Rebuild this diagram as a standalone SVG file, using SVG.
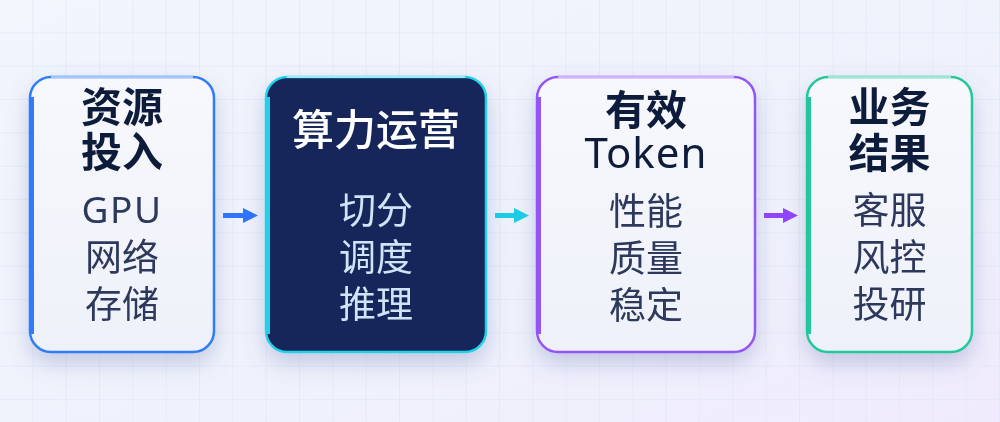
<svg xmlns="http://www.w3.org/2000/svg" width="1000" height="422" viewBox="0 0 1000 422">
  <defs>
    <linearGradient id="bg" x1="0" y1="0" x2="1" y2="1">
      <stop offset="0" stop-color="#f1f5fc"/>
      <stop offset="0.6" stop-color="#eff2fc"/>
      <stop offset="1" stop-color="#f0ebfc"/>
    </linearGradient>
    <pattern id="grid" width="33.3333" height="33.3333" patternUnits="userSpaceOnUse">
      <path d="M33.3333 0 V33.3333 M0 33.3333 H33.3333" fill="none" stroke="#dce4f4" stroke-width="1"/>
    </pattern>
    <linearGradient id="lightFill" x1="0" y1="0" x2="0" y2="1">
      <stop offset="0" stop-color="#f7f8fc"/>
      <stop offset="1" stop-color="#eef1f9"/>
    </linearGradient>
    <filter id="shadow" x="-30%" y="-20%" width="160%" height="150%">
      <feDropShadow dx="0" dy="10" stdDeviation="11" flood-color="#5c6aa8" flood-opacity="0.3"/>
    </filter>
    <marker id="ah-blue" viewBox="0 0 10 10" refX="0" refY="5" markerWidth="15" markerHeight="16" markerUnits="userSpaceOnUse" orient="auto">
      <path d="M0 0 L10 5 L0 10 z" fill="#2f74ff"/>
    </marker>
    <marker id="ah-cyan" viewBox="0 0 10 10" refX="0" refY="5" markerWidth="15" markerHeight="16" markerUnits="userSpaceOnUse" orient="auto">
      <path d="M0 0 L10 5 L0 10 z" fill="#1ccbe6"/>
    </marker>
    <marker id="ah-purple" viewBox="0 0 10 10" refX="0" refY="5" markerWidth="15" markerHeight="16" markerUnits="userSpaceOnUse" orient="auto">
      <path d="M0 0 L10 5 L0 10 z" fill="#8f46fa"/>
    </marker>
  </defs>
  <style>
    .card { filter: url(#shadow); }
    .light { fill: url(#lightFill); stroke-width: 2.5; }
    .hl { stroke: #ffffff; stroke-width: 2; stroke-opacity: 0.55; }
    .title { font-family: "Noto Sans CJK SC", "Noto Sans", sans-serif; font-size: 41px; font-weight: 700; fill: #111a3a; text-anchor: middle; }
    .title-dark { font-family: "Noto Sans CJK SC", "Noto Sans", sans-serif; font-size: 42px; font-weight: 500; fill: #ffffff; text-anchor: middle; }
    .item { font-family: "Noto Sans CJK SC", "Noto Sans", sans-serif; font-size: 37px; font-weight: 400; fill: #2d395c; text-anchor: middle; }
    .item-dark { font-family: "Noto Sans CJK SC", "Noto Sans", sans-serif; font-size: 37px; font-weight: 400; fill: #cfe4f6; text-anchor: middle; }
    .latin { font-family: "Noto Sans", "Noto Sans CJK SC", sans-serif; letter-spacing: 1.5px; }
    .token { font-family: "Noto Sans", "Noto Sans CJK SC", sans-serif; font-size: 42px; font-weight: 400; fill: #111a3a; text-anchor: middle; letter-spacing: 1px; }
    .conn { fill: none; stroke-width: 5; }
  </style>

  <rect x="0" y="0" width="1000" height="422" fill="url(#bg)"/>
  <rect x="0" y="0" width="1000" height="422" fill="url(#grid)"/>

  <g id="node-resources" class="card">
    <rect class="light" x="30" y="77" width="184" height="275" rx="21" stroke="#2f7cf6"/>
    <line class="hl" x1="51" y1="77" x2="193" y2="77"/>
    <rect x="29" y="97" width="5" height="237" fill="#2f7cf6"/>
    <text class="title" x="122" y="122">资源</text>
    <text class="title" x="122" y="167">投入</text>
    <text class="item latin" x="122" y="223">GPU</text>
    <text class="item" x="122" y="271">网络</text>
    <text class="item" x="122" y="318">存储</text>
  </g>

  <g id="node-compute" class="card">
    <rect x="266" y="77" width="220" height="275" rx="21" fill="#13275a" stroke="#22d0ea" stroke-width="2.5"/>
    <line class="hl" x1="287" y1="77" x2="465" y2="77" stroke-opacity="0.45"/>
    <rect x="265" y="97" width="5" height="237" fill="#22d0ea"/>
    <text class="title-dark" x="376" y="145">算力运营</text>
    <text class="item-dark" x="376" y="224">切分</text>
    <text class="item-dark" x="376" y="271">调度</text>
    <text class="item-dark" x="376" y="318">推理</text>
  </g>

  <g id="node-token" class="card">
    <rect class="light" x="537" y="77" width="218" height="275" rx="21" stroke="#9455f7"/>
    <line class="hl" x1="558" y1="77" x2="734" y2="77"/>
    <rect x="536" y="97" width="5" height="237" fill="#9455f7"/>
    <text class="title" x="646" y="125">有效</text>
    <text class="token" x="646" y="168">Token</text>
    <text class="item" x="646" y="225">性能</text>
    <text class="item" x="646" y="272">质量</text>
    <text class="item" x="646" y="319">稳定</text>
  </g>

  <g id="node-business" class="card">
    <rect class="light" x="807" y="77" width="165" height="275" rx="21" stroke="#23c79c"/>
    <line class="hl" x1="828" y1="77" x2="951" y2="77"/>
    <rect x="806" y="97" width="5" height="237" fill="#23c79c"/>
    <text class="title" x="889.5" y="122">业务</text>
    <text class="title" x="889.5" y="168">结果</text>
    <text class="item" x="889.5" y="224">客服</text>
    <text class="item" x="889.5" y="271">风控</text>
    <text class="item" x="889.5" y="318">投研</text>
  </g>

  <g id="connectors">
    <line class="conn" x1="223" y1="215.5" x2="243" y2="215.5" stroke="#2f74ff" marker-end="url(#ah-blue)"/>
    <line class="conn" x1="495" y1="215.5" x2="514" y2="215.5" stroke="#1ccbe6" marker-end="url(#ah-cyan)"/>
    <line class="conn" x1="764" y1="215.5" x2="783" y2="215.5" stroke="#8f46fa" marker-end="url(#ah-purple)"/>
  </g>
</svg>
